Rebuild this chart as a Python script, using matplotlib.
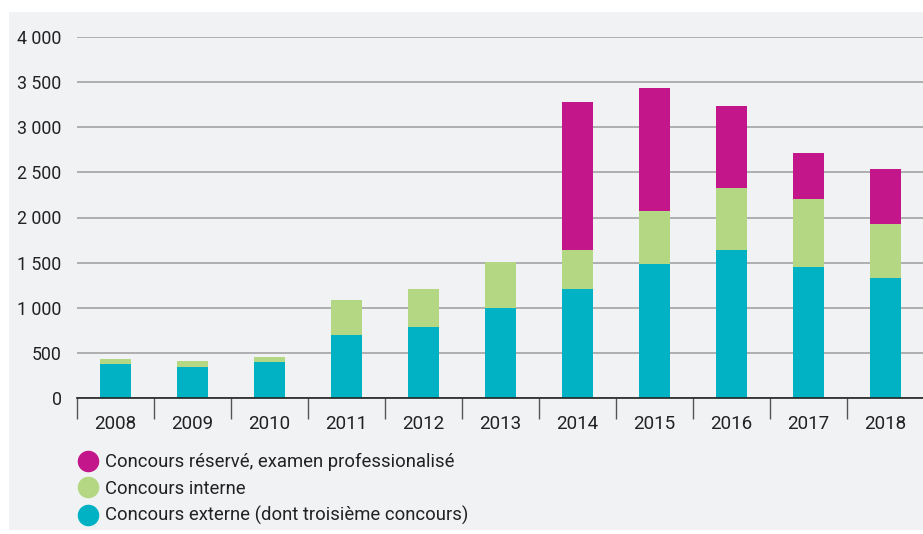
import numpy as np
import matplotlib
matplotlib.use("Agg")
import matplotlib.pyplot as plt
from matplotlib.lines import Line2D
from matplotlib.patches import Rectangle
from matplotlib.ticker import FuncFormatter

years = ["2008", "2009", "2010", "2011", "2012", "2013",
         "2014", "2015", "2016", "2017", "2018"]
externe = [375, 350, 405, 700, 792, 1000, 1210, 1485, 1640, 1455, 1330]
interne = [65, 63, 55, 384, 420, 505, 430, 587, 686, 745, 598]
reserve = [0, 0, 0, 0, 0, 0, 1635, 1357, 904, 510, 609]

labels = ["Concours réservé, examen professionalisé",
          "Concours interne",
          "Concours externe (dont troisième concours)"]

C_EXT = "#00b2c4"
C_INT = "#b3d783"
C_RES = "#c4168b"
BG = "#f1f2f4"

plt.rcParams["font.family"] = ["Roboto", "DejaVu Sans"]
plt.rcParams["text.color"] = "#222222"

fig = plt.figure(figsize=(9.23, 5.34), dpi=100)
fig.patches.append(Rectangle((9 / 923, 1 - 530 / 534), 914 / 923, 518 / 534,
                             transform=fig.transFigure, facecolor=BG,
                             edgecolor="none", zorder=-5))

ax = fig.add_axes([77 / 923, 1 - 398.3 / 534, 847 / 923, (398.3 - 36.7) / 534])
ax.set_facecolor("none")
ax.set_zorder(2)

x = np.arange(len(years))
ext = np.array(externe)
inn = np.array(interne)
res = np.array(reserve)
w = 0.4
ax.bar(x, ext, w, color=C_EXT, zorder=3)
ax.bar(x, inn, w, bottom=ext, color=C_INT, zorder=3)
ax.bar(x, res, w, bottom=ext + inn, color=C_RES, zorder=3)

ax.set_xlim(-0.5, len(years) - 0.5)
ax.set_ylim(0, 4000)
ax.set_yticks(np.arange(0, 4001, 500))
ax.yaxis.set_major_formatter(FuncFormatter(lambda v, p: f"{int(v):,}".replace(",", " ")))
ax.grid(axis="y", color="#a3a3a3", lw=1.2, zorder=1)
ax.set_axisbelow(True)

ax.set_xticks(x)
ax.set_xticklabels(years)
ax.set_xticks(np.arange(-0.5, len(years)), minor=True)
ax.tick_params(axis="x", which="major", length=0, pad=12, labelsize=13.5, labelcolor="#222222")
ax.tick_params(axis="x", which="minor", length=15, width=1, color="#555555")
ax.tick_params(axis="y", length=0, pad=11, labelsize=12.8, labelcolor="#222222")

for s in ["left", "right", "top"]:
    ax.spines[s].set_visible(False)
ax.spines["bottom"].set_color("#222222")
ax.spines["bottom"].set_linewidth(1.2)
ax.spines["bottom"].set_zorder(4)

handles = [Line2D([], [], marker="o", ls="none", markersize=14.5, color=c)
           for c in (C_RES, C_INT, C_EXT)]
fig.legend(handles, labels, loc="upper left", bbox_to_anchor=(70 / 923, 1 - 446 / 534),
           frameon=False, fontsize=13.3, handletextpad=0.3, labelspacing=0.45,
           handlelength=1.2, borderaxespad=0)

fig.savefig("out.png", dpi=100)
